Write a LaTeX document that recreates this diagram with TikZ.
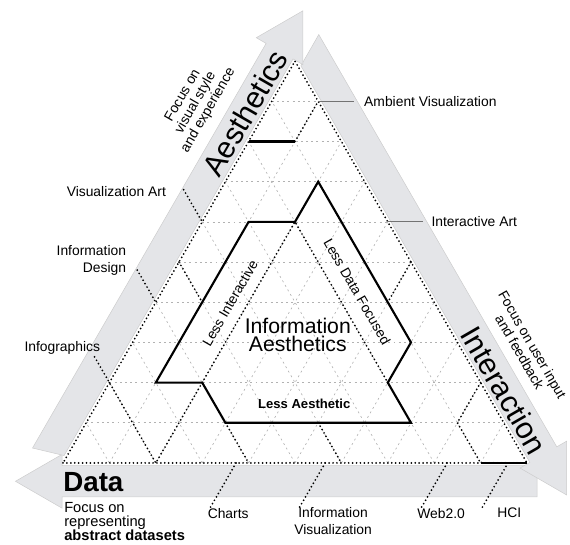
\documentclass[tikz,border=0pt]{standalone}
\usepackage{fontspec}
\setmainfont{Liberation Sans}
\usetikzlibrary{positioning}
\definecolor{bandgrey}{RGB}{228,229,232}

\begin{document}
\begin{tikzpicture}[
    band/.style={fill=bandgrey, draw=black!20, line width=0.3pt},
    grid line/.style={draw=black!30, line width=0.4pt, dash pattern=on 1.2pt off 2pt},
    dots/.style={line width=1.2pt, dash pattern=on 0pt off 2.4pt, line cap=round},
    boundary/.style={line width=1.3pt},
    leader/.style={draw=black!55, line width=0.6pt},
    axis label/.style={font=\fontsize{18.5}{18.5}\selectfont, inner sep=0pt},
    focus/.style={font=\fontsize{8.5}{9}\selectfont, align=center, inner sep=0pt},
    area/.style={font=\fontsize{8.5}{10.4}\selectfont, inner sep=1pt},
    less/.style={font=\fontsize{8.5}{8.5}\selectfont, inner sep=0pt}
]
\useasboundingbox (-1.358,-1.767) rectangle (10.927,9.978);

% Triangular grid
\foreach \i in {1,...,9} {
    \draw[grid line] ({\i/2},{\i*0.866}) -- ({10-\i/2},{\i*0.866});
    \draw[grid line] (\i,0) -- ({5+\i/2},{(10-\i)*0.866});
    \draw[grid line] (\i,0) -- ({\i/2},{\i*0.866});
}

% Data band
\begin{scope}[shift={(10,0)}, rotate=180]
    \draw[band] (-0.22,0.06) -- (10.02,0.06) -- (10.02,-0.185) -- (11.025,0.395)
        -- (10.02,0.975) -- (10.02,0.73) -- (-0.22,0.73) -- cycle;
\end{scope}

% Interaction band
\begin{scope}[shift={(5,8.66)}, rotate=-60]
    \draw[band] (0.15,0.06) -- (10.02,0.06) -- (10.02,-0.185) -- (11.025,0.395)
        -- (10.02,0.975) -- (10.02,0.73) -- (-0.24,0.73) -- cycle;
    \node[axis label, rotate=-60] (interaction) at (8.4,0.36) {Interaction};
    \node[focus, rotate=-60] (interaction focus) at (7.85,1.22) {Focus on user input\\and feedback};
\end{scope}

% Aesthetics band
\begin{scope}[rotate=60]
    \draw[band] (0.15,0.06) -- (10.02,0.06) -- (10.02,-0.185) -- (11.025,0.395)
        -- (10.02,0.975) -- (10.02,0.73) -- (-0.05,0.73) -- cycle;
    \node[axis label, rotate=60] (aesthetics) at (8.5,0.37) {Aesthetics};
    \node[focus, rotate=60] (aesthetics focus) at (8.15,1.4) {Focus on\\visual style\\and experience};
\end{scope}

% Corners and region points
\coordinate (bl) at (0,0);
\coordinate (br) at (10,0);
\coordinate (top) at (5,8.66);
\coordinate (amb a) at (4,6.928);
\coordinate (amb b) at (5,6.928);
\coordinate (amb c) at (5.5,7.794);
\coordinate (va edge) at (3,5.196);
\coordinate (va tick) at (2.6,5.889);
\coordinate (left a) at (2.5,4.33);
\coordinate (left b) at (3,3.464);
\coordinate (id edge) at (2,3.464);
\coordinate (id tick) at (1.6,4.157);
\coordinate (ig edge) at (1,1.732);
\coordinate (ig tick) at (0.68,2.286);
\coordinate (ig base) at (2,0);
\coordinate (ia edge) at (7,5.196);
\coordinate (right a) at (7.5,4.33);
\coordinate (right b) at (7,3.464);
\coordinate (hci a) at (9,1.732);
\coordinate (hci b) at (8.5,0.866);
\coordinate (hci c) at (9,0);
\coordinate (ch base) at (4,0);
\coordinate (iv top) at (5.5,0.866);
\coordinate (iv base) at (6,0);

% Information aesthetics outline
\coordinate (p1) at (5.5,6.062);
\coordinate (p2) at (5,5.196);
\coordinate (p3) at (4,5.196);
\coordinate (p4) at (2,1.732);
\coordinate (p5) at (3,1.732);
\coordinate (p6) at (3.5,0.866);
\coordinate (p7) at (7.5,0.866);
\coordinate (p8) at (7,1.732);
\coordinate (p9) at (7.5,2.598);

% Bottom ticks
\coordinate (ch tick) at (3.18,-0.95);
\coordinate (ch end) at (3.73,0);
\coordinate (iv tick) at (5.1,-0.95);
\coordinate (iv end) at (5.65,0);
\coordinate (web tick) at (7.73,-0.95);
\coordinate (web end) at (8.28,0);
\coordinate (hci tick) at (9.04,-0.95);
\coordinate (hci end) at (9.59,0);

% Dotted borders
\draw[dots] (bl) -- (br) -- (top) -- cycle;
\draw[dots] (amb b) -- (amb c);
\draw[dots] (va tick) -- (va edge);
\draw[dots] (left a) -- (left b);
\draw[dots] (id tick) -- (id edge);
\draw[dots] (ig tick) -- (ig edge) -- (ig base) -- (p5);
\draw[dots] (p6) -- (ch base);
\draw[dots] (iv top) -- (iv base);
\draw[dots] (p5) -- (p2) -- (p8);
\draw[dots] (right a) -- (right b);
\draw[dots] (hci a) -- (hci b) -- (hci c);
\draw[dots] (ch tick) -- (ch end);
\draw[dots] (iv tick) -- (iv end);
\draw[dots] (web tick) -- (web end);
\draw[dots] (hci tick) -- (hci end);

% Solid borders
\draw[boundary] (p1) -- (p2) -- (p3) -- (p4) -- (p5) -- (p6) -- (p7) -- (p8) -- (p9) -- cycle;
\draw[boundary] (amb a) -- (amb b);
\draw[boundary] (hci c) -- (br);

% Labels around the triangle
\node[area, anchor=west] (ambient) at (6.45,7.794) {Ambient Visualization};
\node[area, anchor=west] (interactive art) at (7.9,5.196) {Interactive Art};
\node[area, anchor=east] (vis art) at (2.26,5.86) {Visualization Art};
\node[area, anchor=east, align=right] (info design) at (1.4,4.375) {Information\\Design};
\node[area, anchor=east] (infographics) at (0.84,2.47) {Infographics};
\node[area] (charts) at (3.56,-1.08) {Charts};
\node[area, align=center] (infovis) at (5.82,-1.25) {Information\\Visualization};
\node[area] (web) at (8.15,-1.08) {Web2.0};
\node[area] (hci) at (9.62,-1.08) {HCI};
\draw[leader, shorten >=5pt] (amb c) -- (ambient.west);
\draw[leader, shorten >=4pt] (ia edge) -- (interactive art.west);

% Data axis
\node[axis label, font=\fontsize{17}{17}\selectfont\bfseries, anchor=west] (data) at (0,-0.41) {Data};
\node[anchor=north west, inner sep=0pt, align=left, font=\fontsize{9}{8.6}\selectfont] (data focus) at (0.02,-0.84) {Focus on\\representing\\\textbf{abstract datasets}};

% Inner labels
\node[font=\fontsize{13}{10.5}\selectfont, align=center] (info aesth) at (5.06,2.76) {Information\\Aesthetics};
\node[less, font=\fontsize{8}{8}\selectfont\bfseries] (less aesth) at (5.2,1.27) {Less Aesthetic};
\node[less, rotate=60] (less inter) at (3.6,3.45) {Less Interactive};
\node[less, rotate=-60] (less data) at (6.34,3.69) {Less Data Focused};
\end{tikzpicture}
\end{document}
